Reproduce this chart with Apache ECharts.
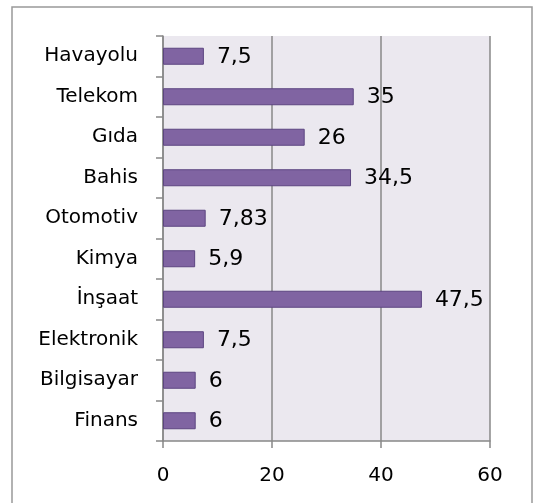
<!DOCTYPE html>
<html><head><meta charset="utf-8">
<script src="https://cdn.jsdelivr.net/npm/echarts@6/dist/echarts.min.js"></script>
<style>html,body{margin:0;padding:0;background:#fff}#c{width:537px;height:503px}</style>
</head><body><div id="c"></div>
<script>
const categories = ["Havayolu","Telekom","Gıda","Bahis","Otomotiv","Kimya","İnşaat","Elektronik","Bilgisayar","Finans"];
const values = [7.5,35,26,34.5,7.83,5.9,47.5,7.5,6,6];
const xTicks = [0,20,40,60];

const FONT = 'DejaVu Sans, sans-serif';
const chart = echarts.init(document.getElementById('c'));
chart.setOption({
  backgroundColor:'#fff',
  animation:false,
  graphic:[{type:'rect',shape:{x:12,y:7,width:520,height:510},style:{fill:'none',stroke:'#999',lineWidth:1.5},z:-10}],
  grid:{left:163,right:47,top:36,bottom:62,show:true,backgroundColor:'#EBE8EF',borderWidth:0},
  xAxis:{type:'value',min:xTicks[0],max:xTicks[xTicks.length-1],interval:20,
    axisLine:{show:true,lineStyle:{color:'#888',width:1.5}},
    axisTick:{show:true,length:7,lineStyle:{color:'#888',width:1.5}},
    splitLine:{show:true,lineStyle:{color:'#888',width:1.5}},
    axisLabel:{color:'#000',fontFamily:FONT,fontSize:20,margin:25}},
  yAxis:{type:'category',data:categories,inverse:true,
    axisLine:{show:true,lineStyle:{color:'#888',width:1.5}},
    axisTick:{show:true,length:7,lineStyle:{color:'#888',width:1.5}},
    axisLabel:{color:'#000',fontFamily:FONT,fontSize:20,margin:25}},
  series:[{type:'bar',data:values,barWidth:'42%',
    itemStyle:{color:'#8064A2',borderColor:'#5C4580',borderWidth:1},
    label:{show:true,position:'right',distance:13,color:'#000',fontFamily:FONT,fontSize:22,offset:[0,1],
      formatter:p=>String(p.value).replace('.',',')}}]
});
</script></body></html>
